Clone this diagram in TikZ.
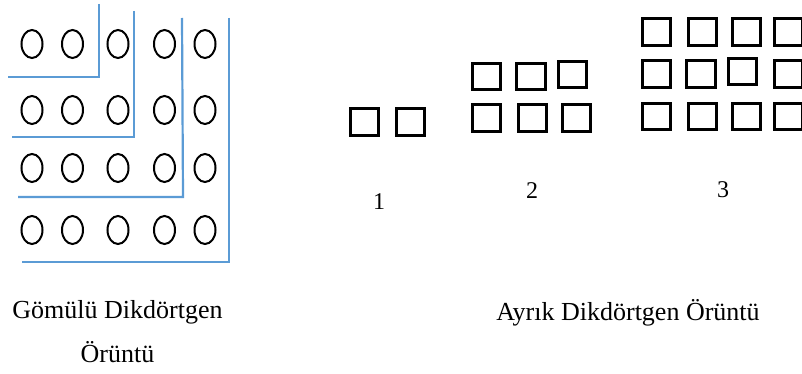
\documentclass[tikz,border=0pt]{standalone}
\usepackage{fontspec}
\setmainfont{Liberation Serif}
\definecolor{lblue}{HTML}{5B9BD5}
\begin{document}
\begin{tikzpicture}[x=1pt,y=-1pt,
  dot/.style={draw=black,line width=2pt},
  sq/.style={draw=black,line width=3pt},
  bar/.style={draw=lblue,line width=2.2pt},
  lbl/.style={font=\fontsize{26}{30}\selectfont,inner sep=0pt,anchor=base},
  num/.style={font=\fontsize{24}{28}\selectfont,inner sep=0pt,anchor=base}]
\useasboundingbox (0,0) rectangle (802,374);
\clip (0,0) rectangle (802,374);
% circles
\foreach \y in {44,110,168,230}{
  \foreach \x in {32,72.5,118,164.5,205}{
    \draw[dot] (\x,\y) ellipse [x radius=10.5, y radius=14];
  }
}
% blue L-lines
\draw[bar] (99,4) -- (99,77) -- (8,77);
\draw[bar] (134,11) -- (134,137) -- (12,137);
\draw[bar] (182,18) -- (183,197) -- (18,197);
\draw[bar] (229,18) -- (229,262) -- (22,262);
% group 1
\draw[sq] (350.5,108.5) rectangle (378.5,135.5);
\draw[sq] (396.5,108.5) rectangle (424.5,135.5);
% group 2
\draw[sq] (472.5,63.5) rectangle (500.5,89.5);
\draw[sq] (516.5,63.5) rectangle (545.5,89.5);
\draw[sq] (558.5,61.5) rectangle (586.5,87.5);
\draw[sq] (472.5,104.5) rectangle (500.5,131.5);
\draw[sq] (518.5,104.5) rectangle (546.5,131.5);
\draw[sq] (562.5,104.5) rectangle (590.5,131.5);
% group 3
\draw[sq] (642.5,18.5) rectangle (670.5,45.5);
\draw[sq] (688.5,18.5) rectangle (716.5,45.5);
\draw[sq] (732.5,18.5) rectangle (760.5,45.5);
\draw[sq] (774.5,18.5) rectangle (802.5,45.5);
\draw[sq] (642.5,60.5) rectangle (670.5,87.5);
\draw[sq] (686.5,60.5) rectangle (715.5,87.5);
\draw[sq] (728.5,58.5) rectangle (756.5,84.5);
\draw[sq] (774.5,60.5) rectangle (802.5,87.5);
\draw[sq] (642.5,103.5) rectangle (670.5,129.5);
\draw[sq] (688.5,103.5) rectangle (716.5,129.5);
\draw[sq] (732.5,103.5) rectangle (760.5,129.5);
\draw[sq] (774.5,103.5) rectangle (802.5,129.5);
% labels
\node[num] (n1) at (379,209) {1};
\node[num] (n2) at (532,198) {2};
\node[num] (n3) at (723,197) {3};
\node[lbl] (g1) at (117.5,318) {Gömülü Dikdörtgen};
\node[lbl] (g2) at (117.5,362) {Örüntü};
\node[lbl] (a1) at (628,320) {Ayrık Dikdörtgen Örüntü};
\end{tikzpicture}
\end{document}
